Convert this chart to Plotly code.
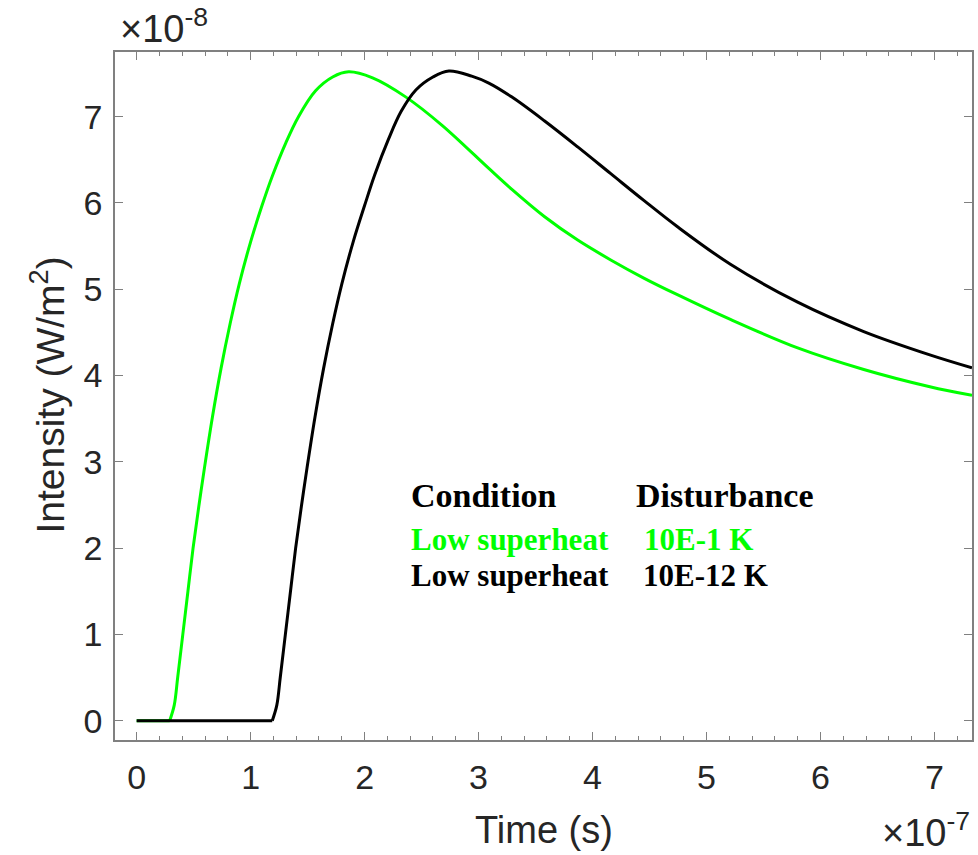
import plotly.graph_objects as go

# Time in units of 1e-7 s, intensity in units of 1e-8 W/m^2
green_time = [0, 0.29, 0.33, 0.36, 0.405, 0.45, 0.495, 0.545, 0.595, 0.665, 0.74, 0.82, 0.90,
              1.00, 1.10, 1.19, 1.31, 1.42, 1.57, 1.72, 1.86, 2.07, 2.36, 2.68, 3.09, 3.29,
              3.58, 3.87, 4.16, 4.45, 4.74, 5.21, 5.80, 6.38, 6.96, 7.33]
green_intensity = [0, 0, 0.18, 0.5, 1.0, 1.5, 2.0, 2.48, 2.93, 3.52, 4.08, 4.6, 5.06,
                   5.55, 5.97, 6.31, 6.70, 7.00, 7.30, 7.46, 7.52, 7.45, 7.23, 6.90, 6.40, 6.16,
                   5.84, 5.57, 5.34, 5.13, 4.94, 4.65, 4.32, 4.07, 3.87, 3.77]

black_time = [0, 1.19, 1.23, 1.26, 1.305, 1.35, 1.395, 1.445, 1.495, 1.565, 1.64, 1.72, 1.80,
              1.90, 2.00, 2.09, 2.21, 2.32, 2.45, 2.60, 2.74, 2.94, 3.09, 3.29, 3.58, 3.87,
              4.16, 4.45, 4.74, 5.21, 5.80, 6.38, 6.96, 7.33]
black_intensity = [0, 0, 0.18, 0.5, 1.0, 1.5, 2.0, 2.48, 2.93, 3.52, 4.08, 4.6, 5.06,
                   5.55, 5.97, 6.33, 6.74, 7.06, 7.31, 7.46, 7.53, 7.47, 7.39, 7.23, 6.95, 6.65,
                   6.34, 6.03, 5.73, 5.29, 4.85, 4.51, 4.24, 4.09]

x_ticks = [0, 1, 2, 3, 4, 5, 6, 7]
y_ticks = [0, 1, 2, 3, 4, 5, 6, 7]

GREEN = "#00ff00"
AXC = "#808080"
TXT = "#262626"
SANS = "Liberation Sans, Arial, sans-serif"
SERIF = "Liberation Serif, Times New Roman, serif"

fig = go.Figure()


def add_series(t, v, color):
    # flat (zero) baseline part drawn straight, rising/decaying part smoothed
    k = max(i for i, val in enumerate(v) if val == 0)
    fig.add_trace(go.Scatter(x=t[:k + 1], y=v[:k + 1], mode="lines",
                             line=dict(color=color, width=3), showlegend=False))
    fig.add_trace(go.Scatter(x=t[k:], y=v[k:], mode="lines",
                             line=dict(color=color, width=3, shape="spline", smoothing=1.0),
                             showlegend=False))


add_series(green_time, green_intensity, GREEN)
add_series(black_time, black_intensity, "#000000")

axis_common = dict(showline=True, linecolor=AXC, linewidth=1.5, mirror="allticks",
                   ticks="inside", ticklen=8, tickwidth=1.2, tickcolor=AXC,
                   showgrid=False, zeroline=False,
                   tickfont=dict(family=SANS, size=34, color=TXT))

fig.update_xaxes(range=[-0.19, 7.33], tickvals=x_ticks, ticklabelstandoff=6,
                 minor=dict(dtick=0.2, tick0=0, ticks="inside", ticklen=4, tickcolor=AXC, tickwidth=1),
                 **axis_common)
fig.update_yaxes(range=[-0.224, 7.75], tickvals=y_ticks, ticklabelstandoff=4, **axis_common)

annotations = [
    dict(text="Time (s)", x=0.5, y=-0.131, xref="paper", yref="paper",
         showarrow=False, font=dict(family=SANS, size=38, color=TXT), xanchor="center", yanchor="middle"),
    dict(text="Intensity (W/m<sup>2</sup>)", x=-0.079, y=0.501, xref="paper", yref="paper",
         showarrow=False, textangle=-90, font=dict(family=SANS, size=39, color=TXT),
         xanchor="center", yanchor="middle"),
    dict(text="×10<sup>-8</sup>", x=0.0035, y=1.0, xref="paper", yref="paper",
         showarrow=False, font=dict(family=SANS, size=38, color=TXT), xanchor="left", yanchor="bottom"),
    dict(text="×10<sup>-7</sup>", x=0.893, y=-0.168, xref="paper", yref="paper",
         showarrow=False, font=dict(family=SANS, size=38, color=TXT), xanchor="left", yanchor="bottom"),
    dict(text="<b>Condition</b>", x=0.3434, y=0.3548, xref="paper", yref="paper",
         showarrow=False, font=dict(family=SERIF, size=34, color="#000000"), xanchor="left", yanchor="middle"),
    dict(text="<b>Disturbance</b>", x=0.6054, y=0.3548, xref="paper", yref="paper",
         showarrow=False, font=dict(family=SERIF, size=34, color="#000000"), xanchor="left", yanchor="middle"),
    dict(text="<b>Low superheat</b>", x=0.3434, y=0.2919, xref="paper", yref="paper",
         showarrow=False, font=dict(family=SERIF, size=31, color=GREEN), xanchor="left", yanchor="middle"),
    dict(text="<b>10E-1 K</b>", x=0.6147, y=0.2919, xref="paper", yref="paper",
         showarrow=False, font=dict(family=SERIF, size=31, color=GREEN), xanchor="left", yanchor="middle"),
    dict(text="<b>Low superheat</b>", x=0.3434, y=0.2385, xref="paper", yref="paper",
         showarrow=False, font=dict(family=SERIF, size=31, color="#000000"), xanchor="left", yanchor="middle"),
    dict(text="<b>10E-12 K</b>", x=0.6135, y=0.2385, xref="paper", yref="paper",
         showarrow=False, font=dict(family=SERIF, size=31, color="#000000"), xanchor="left", yanchor="middle"),
]

fig.update_layout(width=978, height=855, margin=dict(l=115, r=4, t=52, b=115),
                  paper_bgcolor="white", plot_bgcolor="white", annotations=annotations)

fig.write_html("out.html")
